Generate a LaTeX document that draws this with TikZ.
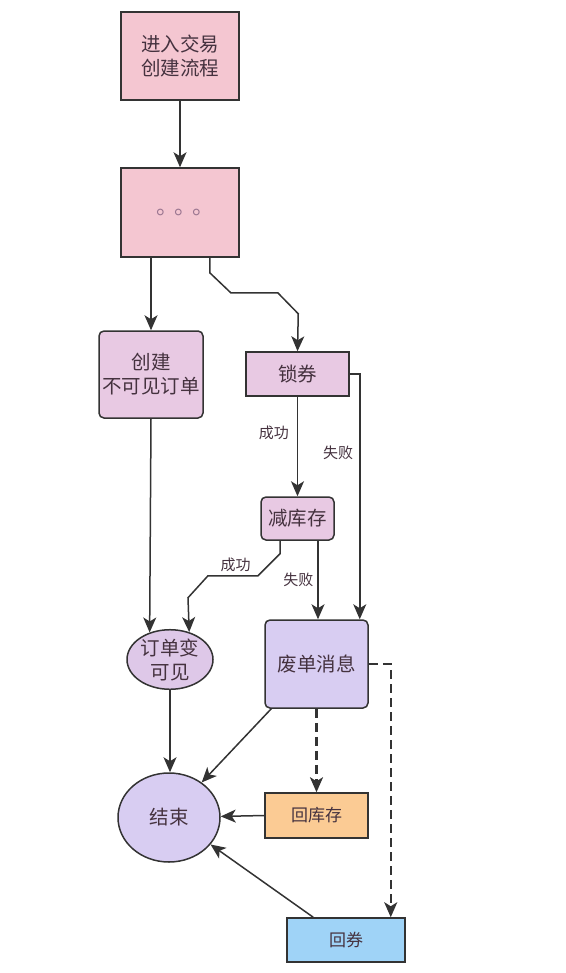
\documentclass[tikz,border=0pt]{standalone}
\usepackage{fontspec}
\newfontfamily\cjk{Noto Sans CJK SC}
\usetikzlibrary{arrows.meta,shapes.geometric}

\definecolor{inkc}{HTML}{45323F}
\definecolor{linec}{HTML}{333333}
\definecolor{pinkc}{HTML}{F4C6D1}
\definecolor{mauvec}{HTML}{E8C9E3}
\definecolor{lilac}{HTML}{DEC8E8}
\definecolor{purplec}{HTML}{D8CDF2}
\definecolor{orangec}{HTML}{FBCB94}
\definecolor{bluec}{HTML}{9FD3F7}
\definecolor{dotc}{HTML}{9A7590}

\tikzset{
  box/.style={draw=linec,line width=1.5pt,inner sep=0pt,align=center,
    text=inkc,font=\cjk\fontsize{19.5}{24}\selectfont},
  rbox/.style={box,rounded corners=5pt},
  oval/.style={box,ellipse},
  lbl/.style={text=inkc,font=\cjk\fontsize{15}{17}\selectfont,inner sep=2pt},
  arr/.style={draw=linec,line width=1.5pt,-{Stealth[length=15pt,width=13pt,inset=4pt]}},
  darr/.style={arr,line width=2.4pt,dash pattern=on 9pt off 5pt}
}

\begin{document}
\begin{tikzpicture}[x=1pt,y=-1pt]

  \useasboundingbox (0,0) rectangle (565,973);

  \node (ENTRY) at (180,56) [box,fill=pinkc,minimum width=118pt,minimum height=88pt] {进入交易\\创建流程};
  \node (DOTS) at (180,212.5) [box,fill=pinkc,minimum width=118pt,minimum height=89pt,font=\cjk\fontsize{22}{24}\selectfont] {\hspace*{11pt}\raisebox{-3pt}{\textcolor{dotc}{。\hspace{-4pt}。\hspace{-4pt}。}}};
  \node (CREATE) at (151,374.5) [rbox,fill=mauvec,minimum width=104pt,minimum height=87pt] {创建\\不可见订单};
  \node (LOCK) at (297.5,374) [box,fill=mauvec,minimum width=103pt,minimum height=44pt] {锁券};
  \node (STOCK) at (297.5,518.5) [rbox,fill=mauvec,minimum width=73pt,minimum height=43pt] {减库存};
  \node (SHOW) at (170,659.5) [oval,fill=lilac,minimum width=86pt,minimum height=57pt] {订单变\\可见};
  \node (CANCEL) at (316.5,664) [rbox,fill=purplec,minimum width=103pt,minimum height=88pt] {废单消息};
  \node (FINISH) at (169,817.5) [oval,fill=purplec,minimum width=102pt,minimum height=89pt] {结束};
  \node (RESTOCK) at (316.5,815.5) [box,fill=orangec,minimum width=103pt,minimum height=45pt,font=\cjk\fontsize{17}{20}\selectfont] {回库存};
  \node (REFUND) at (346,940) [box,fill=bluec,minimum width=118pt,minimum height=44pt,font=\cjk\fontsize{17}{20}\selectfont] {回券};

  % main flow
  \draw[arr] (ENTRY) -- (DOTS);
  \draw[arr] (CREATE.north |- DOTS.south) -- (CREATE.north);
  \draw[arr] ([xshift=-30pt]DOTS.south east) -- ++(0,15) -- ++(21,20) -- ++(47,0) -- ++(20.5,21) -- (LOCK.north);

  % lock coupon
  \draw[arr] (LOCK) -- node[lbl,left=6pt,pos=0.36] {成功} (STOCK);
  \draw[arr] (LOCK.east) -| node[lbl,left=4pt,pos=0.66] {失败} ([xshift=-9pt]CANCEL.north east);

  % stock
  \draw[arr] ([xshift=-17.5pt]STOCK.south) -- ++(0,13) -- ++(-22,22) -- node[lbl,above=1pt,pos=0.45] {成功} ++(-50,0) -- ++(-20,22) -- (SHOW.55);
  \draw[arr] ([xshift=20.5pt]STOCK.south) -- node[lbl,left=2pt] {失败} ([xshift=20.5pt]STOCK.south |- CANCEL.north);

  % end
  \draw[arr] (CREATE.south) -- (SHOW.127);
  \draw[arr] (SHOW.south) -- (SHOW.south |- FINISH.north);
  \draw[arr] ([xshift=7pt]CANCEL.south west) -- (FINISH.47);
  \draw[darr] (CANCEL.south) -- (RESTOCK.north);
  \draw[darr] (CANCEL.east) -| ([xshift=-15pt]REFUND.north east);
  \draw[arr] (RESTOCK.west) -- (FINISH);
  \draw[arr] ([xshift=27pt]REFUND.north west) -- (FINISH.-33);

\end{tikzpicture}
\end{document}
